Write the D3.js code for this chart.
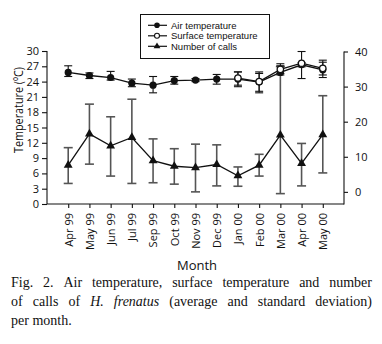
<!DOCTYPE html>
<html>
<head>
<meta charset="utf-8">
<script src="https://cdn.jsdelivr.net/npm/d3@7"></script>
<style>
  body { margin: 0; background: #fff; }
  text { font-family: "Open Sans", sans-serif; fill: #111; }
</style>
</head>
<body>
<div id="chart"></div>
<script>
// months on the x axis
var months = ["Apr 99", "May 99", "Jun 99", "Jul 99", "Sep 99", "Oct 99", "Nov 99",
              "Dec 99", "Jan 00", "Feb 00", "Mar 00", "Apr 00", "May 00"];

// air temperature (mean, lower and upper end of the sd bar)
var airTemp = [25.8, 25.2, 24.8, 23.7, 23.3, 24.2, 24.3, 24.5, 24.5, 23.9, 25.8, 27.3, 26.3];
var airLow  = [25.0, 24.6, 24.3, 23.0, 21.8, 23.5, 24.0, 23.5, 23.0, 22.1, 25.6, 26.9, 24.8];
var airHigh = [27.1, 25.7, 26.0, 24.5, 25.0, 25.0, 24.6, 25.4, 25.9, 25.6, 27.1, 27.7, 27.8];

// surface temperature, only measured from Jan 00
var surfTemp = [null, null, null, null, null, null, null, null, 24.7, 24.0, 26.4, 27.6, 26.6];
var surfLow  = [null, null, null, null, null, null, null, null, 23.3, 21.8, 25.3, 24.6, 25.3];
var surfHigh = [null, null, null, null, null, null, null, null, 25.9, 25.9, 27.5, 29.9, 28.2];

// number of calls
var calls     = [7.6, 16.5, 13.1, 15.5, 8.9, 7.3, 6.9, 7.8, 4.6, 7.6, 16.2, 8.1, 16.3];
var callsLow  = [2.4, 7.9, 4.5, 2.4, 2.6, 2.2, 0.0, 1.7, 1.6, 4.5, -0.5, 1.7, 5.4];
var callsHigh = [12.6, 25.0, 21.4, 26.4, 15.1, 12.3, 13.6, 13.4, 7.1, 10.7, 35.7, 13.8, 27.4];

var tempTicks = [0, 3, 6, 9, 12, 15, 18, 21, 24, 27, 30];
var callTicks = [0, 10, 20, 30, 40];

var width = 382, height = 344;

var svg = d3.select("#chart")
  .append("svg")
    .attr("width", width)
    .attr("height", height);

svg.append("rect").attr("width", width).attr("height", height).attr("fill", "#fff");

var x = d3.scalePoint()
  .domain(months)
  .range([47, 344])
  .padding(1);

var yT = d3.scaleLinear().domain([0, 30]).range([204, 51]);
var yC = d3.scaleLinear().domain([-3.6, 40]).range([204.5, 51.5]);

// left axis
var gL = svg.append("g")
  .attr("transform", "translate(47,0)")
  .call(d3.axisLeft(yT).tickValues(tempTicks).tickSize(5).tickPadding(3));

// right axis
var gR = svg.append("g")
  .attr("transform", "translate(344,0)")
  .call(d3.axisRight(yC).tickValues(callTicks).tickSize(4).tickPadding(7));

// bottom axis
var gB = svg.append("g")
  .attr("transform", "translate(0,204)")
  .call(d3.axisBottom(x).tickSize(4).tickSizeOuter(0));

gB.selectAll(".tick text")
  .attr("transform", "rotate(-90)")
  .attr("text-anchor", "end")
  .attr("x", -9)
  .attr("y", 0)
  .attr("dy", "0.35em");

[gL, gR, gB].forEach(function(g) {
  g.selectAll("text").style("font-family", "Open Sans").style("font-size", "11px").attr("fill", "#111");
  g.selectAll("path, line").attr("stroke", "#111").attr("stroke-width", 1.1);
});
gL.select(".domain").attr("d", "M0,51V204");
gR.select(".domain").attr("d", "M0,51.5V204.5");
gB.select(".domain").attr("d", "M47,0H344");

// axis titles (the printed font is a narrow one, so squeeze a little)
svg.append("text")
  .attr("transform", "translate(18,110) rotate(-90)")
  .attr("text-anchor", "middle")
  .attr("dy", "0.35em")
  .attr("textLength", 86)
  .attr("lengthAdjust", "spacingAndGlyphs")
  .style("font-size", "13px")
  .text("Temperature (\u00baC)");

svg.append("text")
  .attr("x", 197)
  .attr("y", 270)
  .attr("text-anchor", "middle")
  .style("font-size", "13px")
  .text("Month");

// error bar helper
function errorBars(low, high, scale, color, sw, cap) {
  var idx = months.map(function(m, i) { return i; }).filter(function(i) { return low[i] != null; });
  var g = svg.append("g").attr("stroke", color).attr("stroke-width", sw);
  g.selectAll("line.v").data(idx).enter().append("line")
    .attr("x1", function(i) { return x(months[i]); })
    .attr("x2", function(i) { return x(months[i]); })
    .attr("y1", function(i) { return scale(low[i]); })
    .attr("y2", function(i) { return scale(high[i]); });
  g.selectAll("line.lo").data(idx).enter().append("line")
    .attr("x1", function(i) { return x(months[i]) - cap; })
    .attr("x2", function(i) { return x(months[i]) + cap; })
    .attr("y1", function(i) { return scale(low[i]); })
    .attr("y2", function(i) { return scale(low[i]); });
  g.selectAll("line.hi").data(idx).enter().append("line")
    .attr("x1", function(i) { return x(months[i]) - cap; })
    .attr("x2", function(i) { return x(months[i]) + cap; })
    .attr("y1", function(i) { return scale(high[i]); })
    .attr("y2", function(i) { return scale(high[i]); });
}

function seriesLine(values, scale) {
  var line = d3.line()
    .defined(function(d) { return d != null; })
    .x(function(d, i) { return x(months[i]); })
    .y(function(d) { return scale(d); });
  svg.append("path")
    .datum(values)
    .attr("fill", "none")
    .attr("stroke", "#111")
    .attr("stroke-width", 1.3)
    .attr("d", line);
}

// calls
errorBars(callsLow, callsHigh, yC, "#555", 1.6, 4.5);
seriesLine(calls, yC);
var tri = d3.symbol().type(d3.symbolTriangle).size(34);
svg.append("g").selectAll("path")
  .data(calls).enter().append("path")
  .attr("d", tri)
  .attr("transform", function(d, i) { return "translate(" + x(months[i]) + "," + yC(d) + ")"; })
  .attr("fill", "#111");

// temperatures
errorBars(airLow, airHigh, yT, "#111", 1.1, 4);
errorBars(surfLow, surfHigh, yT, "#111", 1.1, 4);
seriesLine(airTemp, yT);
seriesLine(surfTemp, yT);

svg.append("g").selectAll("circle")
  .data(airTemp).enter().append("circle")
  .attr("cx", function(d, i) { return x(months[i]); })
  .attr("cy", function(d) { return yT(d); })
  .attr("r", 3.6)
  .attr("fill", "#111");

svg.append("g").selectAll("circle")
  .data(surfTemp.map(function(d, i) { return {v: d, i: i}; }).filter(function(d) { return d.v != null; }))
  .enter().append("circle")
  .attr("cx", function(d) { return x(months[d.i]); })
  .attr("cy", function(d) { return yT(d.v); })
  .attr("r", 3.2)
  .attr("fill", "#fff")
  .attr("stroke", "#111")
  .attr("stroke-width", 1.3);

// legend
var legendItems = ["Air temperature", "Surface temperature", "Number of calls"];
var lg = svg.append("g");
lg.append("rect")
  .attr("x", 140.5).attr("y", 14.5).attr("width", 129).attr("height", 44)
  .attr("fill", "#fff").attr("stroke", "#111").attr("stroke-width", 1);
legendItems.forEach(function(name, k) {
  var yy = 25.3 + k * 10.5;
  lg.append("line").attr("x1", 148).attr("x2", 167).attr("y1", yy).attr("y2", yy)
    .attr("stroke", "#111").attr("stroke-width", 1.2);
  if (k == 0) {
    lg.append("circle").attr("cx", 157).attr("cy", yy).attr("r", 2.8).attr("fill", "#111");
  } else if (k == 1) {
    lg.append("circle").attr("cx", 157).attr("cy", yy).attr("r", 2.5)
      .attr("fill", "#fff").attr("stroke", "#111").attr("stroke-width", 1.1);
  } else {
    lg.append("path").attr("d", d3.symbol().type(d3.symbolTriangle).size(20))
      .attr("transform", "translate(157," + yy + ")").attr("fill", "#111");
  }
  lg.append("text").attr("x", 171).attr("y", yy).attr("dy", "0.35em")
    .style("font-family", "Liberation Sans, Arial, sans-serif")
    .style("font-size", "9.5px").text(name);
});

// caption, justified like the printed figure
var captionLines = [
  [["Fig.", 0], ["2.", 0], ["Air", 0], ["temperature,", 0], ["surface", 0], ["temperature", 0], ["and", 0], ["number", 0]],
  [["of", 0], ["calls", 0], ["of", 0], ["H.", 1], ["frenatus", 1], ["(average", 0], ["and", 0], ["standard", 0], ["deviation)", 0]],
  [["per", 0], ["month.", 0]]
];
var capLeft = 11, capRight = 372;
captionLines.forEach(function(words, li) {
  var yy = 287 + li * 19;
  var nodes = words.map(function(w) {
    return svg.append("text")
      .attr("y", yy)
      .style("font-family", "Liberation Serif, Times New Roman, serif")
      .style("font-size", "14px")
      .style("font-style", w[1] ? "italic" : "normal")
      .text(w[0]);
  });
  var widths = nodes.map(function(n) { return n.node().getComputedTextLength(); });
  var total = d3.sum(widths);
  var gap = li < 2 ? (capRight - capLeft - total) / (words.length - 1) : 3.5;
  var xx = capLeft;
  nodes.forEach(function(n, k) {
    n.attr("x", xx);
    xx += widths[k] + gap;
  });
});
</script>
</body>
</html>
